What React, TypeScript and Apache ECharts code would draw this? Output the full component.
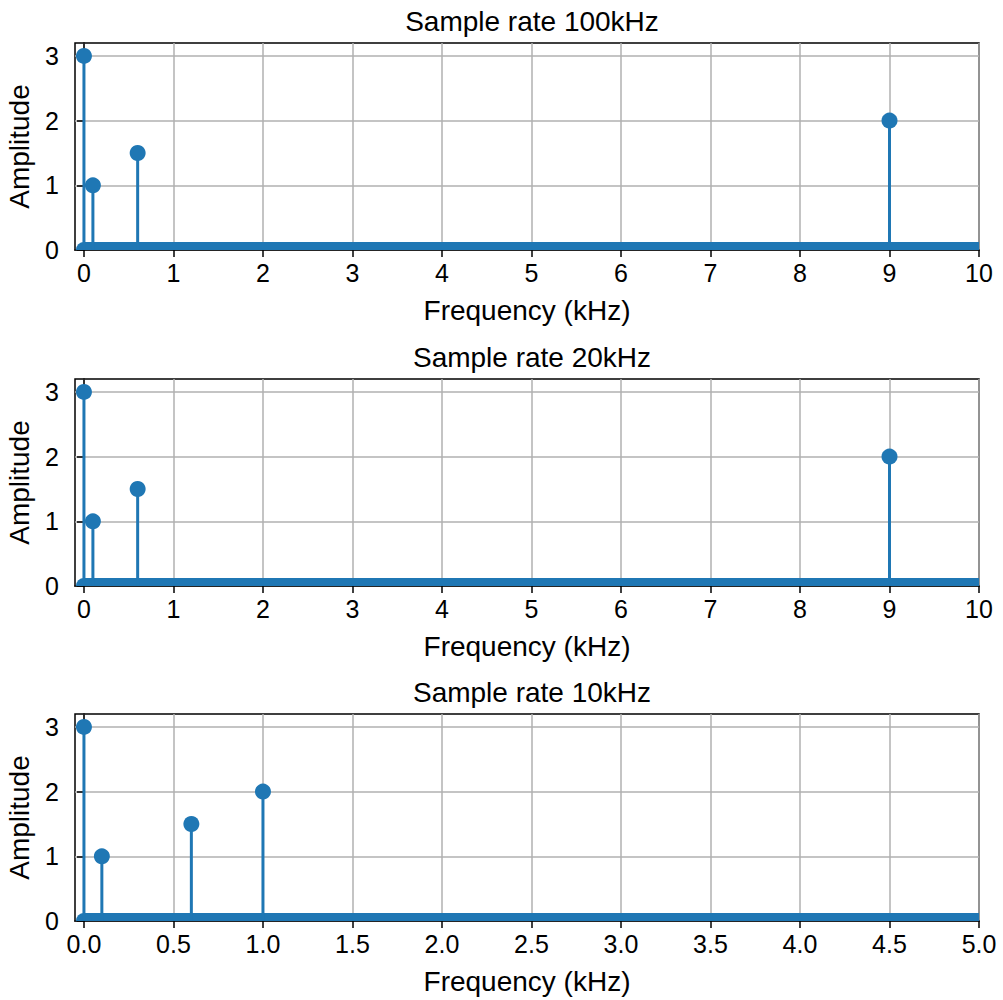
import React, { useEffect, useRef } from "react";
import * as echarts from "echarts";

// Spectrum peaks (frequency in kHz, amplitude) for each sample rate
const titles = ["Sample rate 100kHz", "Sample rate 20kHz", "Sample rate 10kHz"];
const peaks100k: number[][] = [[0, 3], [0.1, 1], [0.6, 1.5], [9, 2]];
const peaks20k: number[][] = [[0, 3], [0.1, 1], [0.6, 1.5], [9, 2]];
const peaks10k: number[][] = [[0, 3], [0.1, 1], [0.6, 1.5], [1, 2]];
const peakSets = [peaks100k, peaks20k, peaks10k];

// Axis ranges and tick labels
const xMins = [-0.1, -0.1, -0.05];
const xMaxs = [10, 10, 5];
const xTicksWide = [0, 1, 2, 3, 4, 5, 6, 7, 8, 9, 10];
const xTicksNarrow = [0, 0.5, 1, 1.5, 2, 2.5, 3, 3.5, 4, 4.5, 5];
const xTickSets = [xTicksWide, xTicksWide, xTicksNarrow];
const yTicks = [0, 1, 2, 3];
const yMax = 3.2;

const BLUE = "#1f77b4";
const FONT = "Liberation Sans";
const R = 8;

const gridTops = [43, 379, 714];
const gridH = 207;

export default function App() {
  const ref = useRef<HTMLDivElement>(null);
  useEffect(() => {
    if (!ref.current) return;
    const chart = echarts.init(ref.current, null, { renderer: "svg" });

    const grids = gridTops.map((t) => ({
      left: 75,
      right: 24,
      top: t,
      height: gridH,
      outerBoundsMode: "none",
      show: true,
      borderColor: "#000",
      borderWidth: 1.5,
      backgroundColor: "transparent",
    }));

    const title = titles.map((t, i) => ({
      text: t,
      left: 527,
      textAlign: "center",
      top: gridTops[i] - 41,
      textStyle: { fontFamily: FONT, fontSize: 28, fontWeight: "normal", color: "#000" },
    }));

    const xAxis = xTickSets.map((ticks, i) => ({
      type: "value",
      gridIndex: i,
      min: xMins[i],
      max: xMaxs[i],
      name: "Frequency (kHz)",
      nameLocation: "middle",
      nameGap: 46,
      nameTextStyle: { fontFamily: FONT, fontSize: 28, color: "#000" },
      axisLine: { show: true, onZero: false, lineStyle: { color: "#000", width: 1.5 } },
      axisTick: { show: true, length: 7, customValues: ticks, lineStyle: { color: "#000", width: 1.5 } },
      axisLabel: {
        customValues: ticks,
        margin: 10,
        fontFamily: FONT,
        fontSize: 25,
        color: "#000",
        formatter: (v: number) => (i === 2 ? v.toFixed(1) : String(v)),
      },
      splitLine: { show: true, lineStyle: { color: "#b0b0b0", width: 1.5 } },
    }));

    const yAxis = [0, 1, 2].map((i) => ({
      type: "value",
      gridIndex: i,
      min: 0,
      max: yMax,
      name: "Amplitude",
      nameLocation: "middle",
      nameGap: 42,
      nameRotate: 90,
      nameTextStyle: { fontFamily: FONT, fontSize: 28, color: "#000" },
      axisLine: { show: true, lineStyle: { color: "#000", width: 1.5 } },
      axisTick: { show: true, length: 7, customValues: yTicks, lineStyle: { color: "#000", width: 1.5 } },
      axisLabel: { customValues: yTicks, margin: 16, fontFamily: FONT, fontSize: 25, color: "#000" },
      splitLine: { show: true, lineStyle: { color: "#b0b0b0", width: 1.5 } },
    }));

    const series: any[] = [];
    peakSets.forEach((peaks, i) => {
      // Dense zero-amplitude bins form a band along the baseline
      series.push({
        type: "custom",
        xAxisIndex: i,
        yAxisIndex: i,
        silent: true,
        data: [[0, xMaxs[i]]],
        renderItem: (params: any, api: any) => {
          const a = api.coord([api.value(0), 0]);
          const b = api.coord([api.value(1), 0]);
          return {
            type: "group",
            children: [
              {
                type: "rect",
                shape: { x: a[0], y: a[1] - R, width: b[0] - a[0], height: R },
                style: { fill: BLUE },
              },
              {
                type: "sector",
                shape: { cx: a[0], cy: a[1], r: R, r0: 0, startAngle: Math.PI, endAngle: Math.PI * 2 },
                style: { fill: BLUE },
              },
            ],
          };
        },
      });
      // Stems with round markers
      series.push({
        type: "custom",
        xAxisIndex: i,
        yAxisIndex: i,
        silent: true,
        data: peaks,
        renderItem: (params: any, api: any) => {
          const p = api.coord([api.value(0), api.value(1)]);
          const b = api.coord([api.value(0), 0]);
          return {
            type: "group",
            children: [
              {
                type: "line",
                shape: { x1: b[0], y1: b[1], x2: p[0], y2: p[1] },
                style: { stroke: BLUE, lineWidth: 3 },
              },
              {
                type: "circle",
                shape: { cx: p[0], cy: p[1], r: R },
                style: { fill: BLUE },
              },
            ],
          };
        },
      });
    });

    chart.setOption({
      animation: false,
      backgroundColor: "#fff",
      title,
      grid: grids,
      xAxis,
      yAxis,
      series,
    });
    return () => chart.dispose();
  }, []);

  return (
    <div
      ref={ref}
      style={{ position: "fixed", left: 0, top: 0, width: 1003, height: 1000 }}
    />
  );
}
